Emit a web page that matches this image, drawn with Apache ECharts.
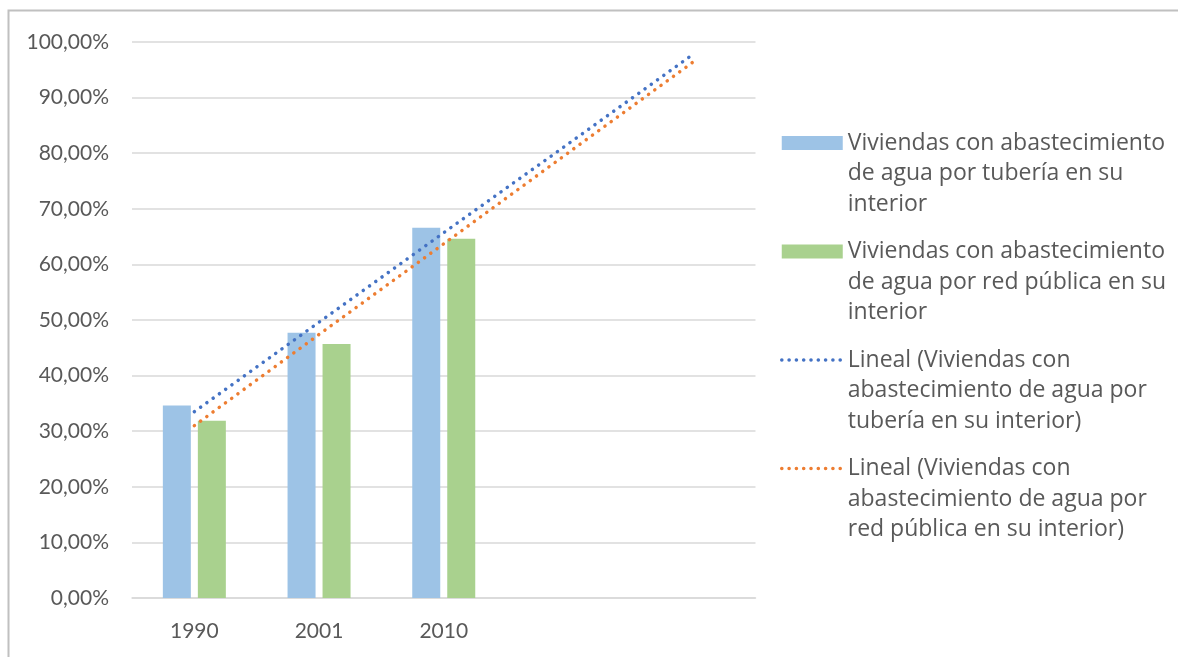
<!DOCTYPE html>
<html>
<head>
<meta charset="utf-8">
<script src="https://cdn.jsdelivr.net/npm/echarts@6/dist/echarts.min.js"></script>
<style>html,body{margin:0;padding:0;background:#fff;}#c{width:1178px;height:657px;}</style>
</head>
<body>
<div id="c"></div>
<script>
const categories = ['1990', '2001', '2010', '', ''];
const tuberia = [34.6, 47.7, 66.6];
const redPublica = [31.9, 45.7, 64.6];
const trendTuberia = [33.5, 49.6, 65.7, 81.7, 97.8];
const trendRed = [31.0, 47.4, 63.7, 80.1, 96.4];
const seriesNames = [
  'Viviendas con abastecimiento de agua por tubería en su interior',
  'Viviendas con abastecimiento de agua por red pública en su interior',
  'Lineal (Viviendas con abastecimiento de agua por tubería en su interior)',
  'Lineal (Viviendas con abastecimiento de agua por red pública en su interior)'
];
const legendLabels = [
  'Viviendas con abastecimiento\nde agua por tubería en su\ninterior',
  'Viviendas con abastecimiento\nde agua por red pública en su\ninterior',
  'Lineal (Viviendas con\nabastecimiento de agua por\ntubería en su interior)',
  'Lineal (Viviendas con\nabastecimiento de agua por\nred pública en su interior)'
];

const FONT = 'Lato';
const LFONT = 'Open Sans';
const TXT = '#595959';
const LH = 30.5;
const hidden = { opacity: 0, color: 'rgba(0,0,0,0)', borderWidth: 0 };
const legendLine = { width: 3.5, cap: 'round', type: [0.1, 7.2] };
const chart = echarts.init(document.getElementById('c'));
chart.setOption({
  animation: false,
  backgroundColor: '#fff',
  graphic: [{
    type: 'rect', silent: true,
    shape: { x: 8.5, y: 10.5, width: 1300, height: 800 },
    style: { fill: 'none', stroke: '#c0c0c0', lineWidth: 2 }
  }],
  grid: { left: 132, right: 422.5, top: 42, bottom: 59, containLabel: false },
  legend: {
    orient: 'vertical', left: 780, top: 143 - 2.5 * LH, padding: 0,
    itemWidth: 61, itemHeight: 14, itemGap: 108.5 - 5 * LH,
    data: [
      { name: seriesNames[0], icon: 'rect' },
      { name: seriesNames[1], icon: 'rect' },
      { name: seriesNames[2], itemStyle: hidden, lineStyle: legendLine },
      { name: seriesNames[3], itemStyle: hidden, lineStyle: legendLine }
    ],
    formatter: function (n) { return '\n\n' + legendLabels[seriesNames.indexOf(n)]; },
    textStyle: { fontFamily: LFONT, fontSize: 23, color: TXT, lineHeight: LH }
  },
  xAxis: {
    type: 'category', data: categories,
    axisLine: { lineStyle: { color: '#d9d9d9', width: 1.5 } },
    axisTick: { show: false },
    axisLabel: { fontFamily: FONT, fontSize: 21, color: TXT, margin: 23 },
    splitLine: { show: false }
  },
  yAxis: {
    type: 'value', min: 0, max: 100, interval: 10,
    axisLine: { show: false }, axisTick: { show: false },
    axisLabel: {
      fontFamily: FONT, fontSize: 21, color: TXT, margin: 23,
      formatter: function (v) { return v.toFixed(2).replace('.', ',') + '%'; }
    },
    splitLine: { lineStyle: { color: '#d9d9d9', width: 1.5 } }
  },
  series: [
    { name: seriesNames[0], type: 'bar', data: tuberia, barWidth: 28, barGap: '25%',
      itemStyle: { color: '#9dc3e6' } },
    { name: seriesNames[1], type: 'bar', data: redPublica, barWidth: 28,
      itemStyle: { color: '#a9d18e' } },
    { name: seriesNames[2], type: 'line', data: trendTuberia, symbol: 'none', z: 5,
      lineStyle: { color: '#4472c4', width: 3.5, type: [0.1, 7.6], cap: 'round' },
      itemStyle: { color: '#4472c4' } },
    { name: seriesNames[3], type: 'line', data: trendRed, symbol: 'none', z: 5,
      lineStyle: { color: '#ed7d31', width: 3.5, type: [0.1, 7.6], cap: 'round' },
      itemStyle: { color: '#ed7d31' } }
  ]
});
</script>
</body>
</html>
